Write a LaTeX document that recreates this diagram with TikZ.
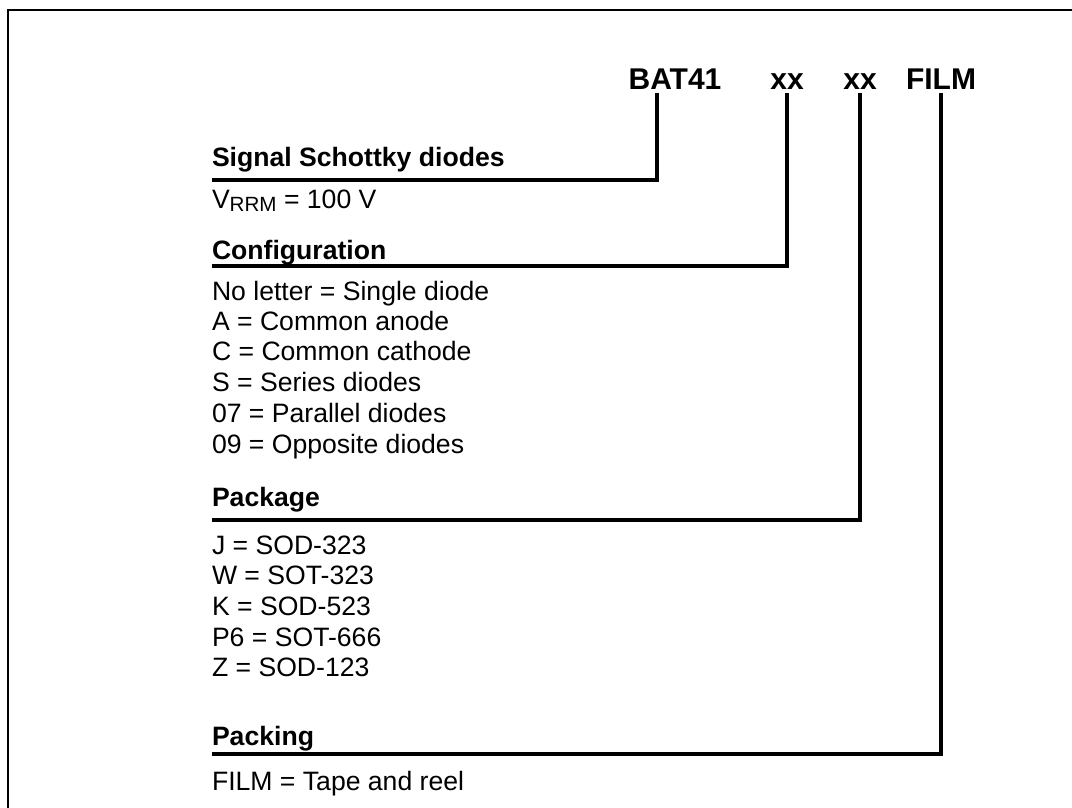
\documentclass[tikz,border=0pt]{standalone}
\usepackage{fontspec}
\setmainfont{Liberation Sans}
\usepackage{tikz}

\begin{document}
\begin{tikzpicture}[x=0.5pt,y=-0.5pt,
  every node/.style={inner sep=0pt, outer sep=0pt, anchor=base west, font=\fontsize{13.3}{16}\selectfont},
  code/.style={font=\fontsize{15}{18}\selectfont\bfseries, anchor=base, outer sep=1.5pt},
  head/.style={font=\fontsize{13.3}{16}\selectfont\bfseries},
  lead/.style={line width=1.8pt}]
            \useasboundingbox (0,0) rectangle (1072,808);
            \draw[line width=1.3pt] (1072,10) -- (8,10) -- (8,808);
            % part number
            \node[code] (bat)  at (675,90) {BAT41};
            \node[code] (xa)   at (787,90) {xx};
            \node[code] (xb)   at (860,90) {xx};
            \node[code] (film) at (941,90) {FILM};
            % headings and their underlines
            \node[head] (sig) at (212,167) {Signal Schottky diodes};
            \coordinate (sigline) at (212,180);
            \node[head] (cfg) at (212,259) {Configuration};
            \coordinate (cfgline) at (212,266);
            \node[head] (pkg) at (212,506) {Package};
            \coordinate (pkgline) at (212,520);
            \node[head] (pck) at (212,745) {Packing};
            \coordinate (pckline) at (212,754);
            % values
            \node (vrrm) at (212,208) {V\raisebox{-1.8pt}{\fontsize{10.3}{12}\selectfont RRM} = 100 V};
            \node (c1) at (212,300) {No letter = Single diode};
            \node (c2) at (212,330) {A = Common anode};
            \node (c3) at (212,360) {C = Common cathode};
            \node (c4) at (212,391) {S = Series diodes};
            \node (c5) at (212,422) {07 = Parallel diodes};
            \node (c6) at (212,453) {09 = Opposite diodes};
            \node (p1) at (212,554) {J = SOD-323};
            \node (p2) at (212,584) {W = SOT-323};
            \node (p3) at (212,615) {K = SOD-523};
            \node (p4) at (212,646) {P6 = SOT-666};
            \node (p5) at (212,676) {Z = SOD-123};
            \node (f1) at (212,790) {FILM = Tape and reel};
            % leads
            \draw[lead] ([xshift=-9pt]bat.south) |- (sigline);
            \draw[lead] (xa.south) |- (cfgline);
            \draw[lead] (xb.south) |- (pkgline);
            \draw[lead] (film.south) |- (pckline);
\end{tikzpicture}
\end{document}
